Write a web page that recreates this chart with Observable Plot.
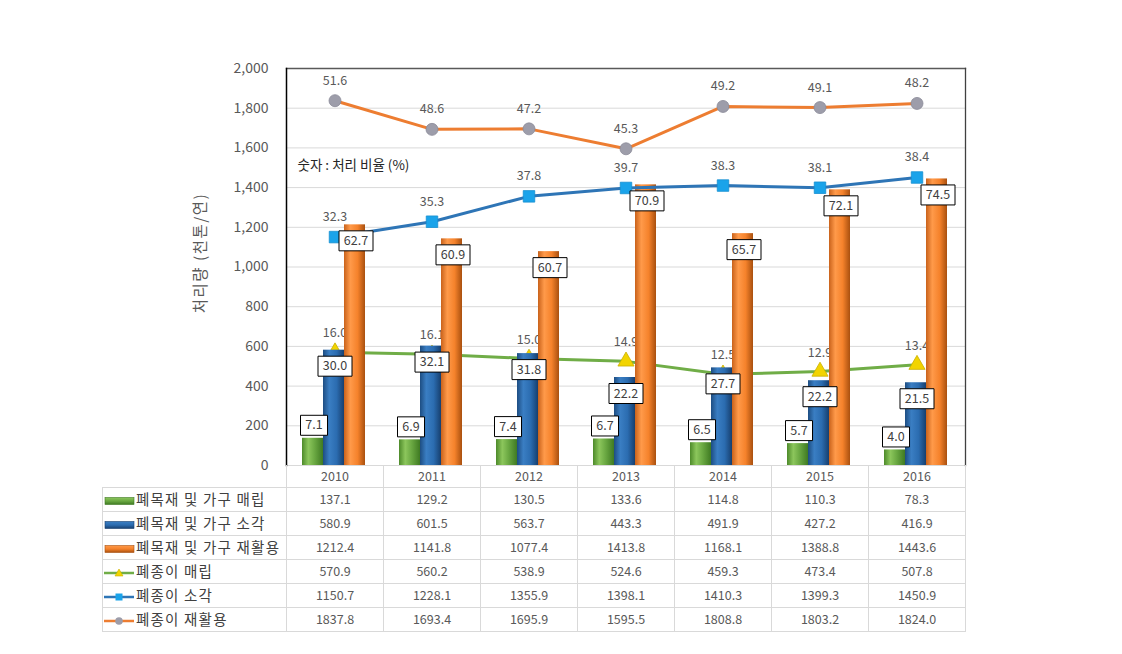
<!DOCTYPE html>
<html>
<head>
<meta charset="utf-8">
<script src="https://cdn.jsdelivr.net/npm/d3@7"></script>
<script src="https://cdn.jsdelivr.net/npm/@observablehq/plot@0.6"></script>
<style>
  body { margin: 0; background: #fff; }
  #wrap { position: relative; width: 1122px; height: 654px; font-family: 'Noto Sans CJK KR', 'Noto Sans', sans-serif; }
  #tbl { position: absolute; left: 102px; top: 465px; border-collapse: collapse; table-layout: fixed; width: 863px; }
  #tbl td { border: 1px solid #d9d9d9; padding: 0; text-align: center; font-size: 12.5px; color: #595959; height: 23px; line-height: 1; }
  #tbl td.leg { text-align: left; font-size: 14.5px; letter-spacing: 1.2px; color: #404040; white-space: nowrap; }
  #tbl td.leg svg { vertical-align: middle; margin-right: 1px; }
  #tbl tr.head td { height: 22px; border-top: none; }
  #tbl tr.head td.blank { border: none; }
</style>
</head>
<body>
<div id="wrap"></div>
<script>
const years = ["2010", "2011", "2012", "2013", "2014", "2015", "2016"];
const yTicks = [0, 200, 400, 600, 800, 1000, 1200, 1400, 1600, 1800, 2000];

const seriesNames = ["폐목재 및 가구 매립", "폐목재 및 가구 소각", "폐목재 및 가구 재활용", "폐종이 매립", "폐종이 소각", "폐종이 재활용"];

const woodLandfill = [137.1, 129.2, 130.5, 133.6, 114.8, 110.3, 78.3];
const woodIncin    = [580.9, 601.5, 563.7, 443.3, 491.9, 427.2, 416.9];
const woodRecycle  = [1212.4, 1141.8, 1077.4, 1413.8, 1168.1, 1388.8, 1443.6];
const paperLandfill = [570.9, 560.2, 538.9, 524.6, 459.3, 473.4, 507.8];
const paperIncin    = [1150.7, 1228.1, 1355.9, 1398.1, 1410.3, 1399.3, 1450.9];
const paperRecycle  = [1837.8, 1693.4, 1695.9, 1595.5, 1808.8, 1803.2, 1824.0];

const woodLandfillPct = [7.1, 6.9, 7.4, 6.7, 6.5, 5.7, 4.0];
const woodIncinPct    = [30.0, 32.1, 31.8, 22.2, 27.7, 22.2, 21.5];
const woodRecyclePct  = [62.7, 60.9, 60.7, 70.9, 65.7, 72.1, 74.5];
const paperLandfillPct = [16.0, 16.1, 15.0, 14.9, 12.5, 12.9, 13.4];
const paperIncinPct    = [32.3, 35.3, 37.8, 39.7, 38.3, 38.1, 38.4];
const paperRecyclePct  = [51.6, 48.6, 47.2, 45.3, 49.2, 49.1, 48.2];

const note = "숫자 : 처리 비율 (%)";
const yTitle = "처리량 (천톤/연)";

const mk = (vals, pcts) => years.map((year, i) => ({year, value: vals[i], pct: pcts[i].toFixed(1)}));
const wl = mk(woodLandfill, woodLandfillPct);
const wi = mk(woodIncin, woodIncinPct);
const wr = mk(woodRecycle, woodRecyclePct);
const pl = mk(paperLandfill, paperLandfillPct);
const pi = mk(paperIncin, paperIncinPct);
const pr = mk(paperRecycle, paperRecyclePct);

const barW = 21, band = 97, inset = (band - barW) / 2;
const box = w => ({draw(ctx) { ctx.rect(-w / 2, -10, w, 20); }});
const font = "'Noto Sans CJK KR', 'Noto Sans', sans-serif";

const chart = Plot.plot({
  width: 1122, height: 466,
  marginTop: 68, marginBottom: 1, marginLeft: 286, marginRight: 157,
  style: {fontFamily: font, fontSize: "14px", color: "#595959", background: "transparent", overflow: "visible"},
  x: {domain: years, padding: 0, axis: null},
  y: {domain: [0, 2000]},
  marks: [
    Plot.gridY(yTicks, {stroke: "#d9d9d9", strokeOpacity: 1}),
    Plot.axisY(yTicks, {tickSize: 0, tickPadding: 18, tickFormat: d3.format(","), label: null, fontSize: 14}),
    Plot.text([yTitle], {frameAnchor: "left", text: d => d, rotate: -90, textAnchor: "middle", dx: -85, dy: -14, fontSize: 15.5, fill: "#595959"}),
    // 폐종이 매립 (drawn behind bars)
    Plot.line(pl, {x: "year", y: "value", stroke: "#70ad47", strokeWidth: 3}),
    Plot.dot(pl, {x: "year", y: "value", symbol: "triangle", r: 6, fill: "#f2d400", stroke: "#c9b000", strokeWidth: 0.8}),
    Plot.text(pl, {x: "year", y: "value", text: "pct", dy: -19, fill: "#595959", fontSize: 12.5}),
    // bars
    Plot.barY(wl, {x: "year", y: "value", fill: "url(#gGreen)", insetLeft: inset, insetRight: inset, dx: -22}),
    Plot.barY(wi, {x: "year", y: "value", fill: "url(#gBlue)", insetLeft: inset, insetRight: inset, dx: -1}),
    Plot.barY(wr, {x: "year", y: "value", fill: "url(#gOrange)", insetLeft: inset, insetRight: inset, dx: 20}),
    // 폐종이 소각
    Plot.line(pi, {x: "year", y: "value", stroke: "#2e75b6", strokeWidth: 3}),
    Plot.dot(pi, {x: "year", y: "value", symbol: "square", r: 6.5, fill: "#1aa3ea", stroke: "#168fd0", strokeWidth: 0.8}),
    Plot.text(pi, {x: "year", y: "value", text: "pct", dy: -20, fill: "#595959", fontSize: 12.5}),
    // 폐종이 재활용
    Plot.line(pr, {x: "year", y: "value", stroke: "#ed7d31", strokeWidth: 3}),
    Plot.dot(pr, {x: "year", y: "value", r: 6, fill: "#9d9daa", stroke: "#8a8a98", strokeWidth: 0.8}),
    Plot.text(pr, {x: "year", y: "value", text: "pct", dy: -20, fill: "#595959", fontSize: 12.5}),
    // frame
    Plot.frame({anchor: "top", stroke: "#595959", strokeWidth: 1.3}),
    Plot.frame({anchor: "right", stroke: "#404040", strokeWidth: 1.3}),
    Plot.frame({anchor: "left", stroke: "#000", strokeWidth: 1.5}),
    // boxed labels for bars
    Plot.dot(wl, {x: "year", y: "value", symbol: box(27), fill: "white", stroke: "#000", strokeWidth: 1, dx: -21, dy: -13}),
    Plot.text(wl, {x: "year", y: "value", text: "pct", dx: -21, dy: -13, fill: "#404040", fontSize: 12.5}),
    Plot.dot(wi, {x: "year", y: "value", symbol: box(34), fill: "white", stroke: "#000", strokeWidth: 1, dx: 0, dy: 16}),
    Plot.text(wi, {x: "year", y: "value", text: "pct", dx: 0, dy: 16, fill: "#404040", fontSize: 12.5}),
    Plot.dot(wr, {x: "year", y: "value", symbol: box(34), fill: "white", stroke: "#000", strokeWidth: 1, dx: 21, dy: 16}),
    Plot.text(wr, {x: "year", y: "value", text: "pct", dx: 21, dy: 16, fill: "#404040", fontSize: 12.5}),
    // note
    Plot.text([note], {frameAnchor: "top-left", text: d => d, dx: 11, dy: 92, textAnchor: "start", fill: "#262626", fontSize: 13.5})
  ]
});

// gradients for 3D-like bars
const defs = d3.select(chart).insert("defs", ":first-child");
function grad(id, stops) {
  const g = defs.append("linearGradient").attr("id", id).attr("x1", "0").attr("x2", "1").attr("y1", "0").attr("y2", "0");
  stops.forEach(([o, c]) => g.append("stop").attr("offset", o).attr("stop-color", c));
}
grad("gGreen", [[0, "#4d8a2a"], [0.3, "#8cc65c"], [0.6, "#6aa842"], [1, "#3f7a22"]]);
grad("gBlue", [[0, "#1d4d82"], [0.3, "#3a7ec3"], [0.65, "#2b6cb0"], [1, "#173f6e"]]);
grad("gOrange", [[0, "#c9621b"], [0.3, "#ff9a4a"], [0.65, "#f5822b"], [1, "#a9500f"]]);

// wider letter spacing for the rotated title, like the original
d3.select(chart).selectAll("text").filter(function() { return this.textContent === yTitle; }).style("letter-spacing", "1.5px");

const wrap = document.getElementById("wrap");
wrap.appendChild(chart);
chart.style.position = "absolute";
chart.style.left = "0";
chart.style.top = "0";

// legend icons
const barIcon = (c1, c2, c3) => `<svg width="32" height="10"><defs><linearGradient id="i${c2.slice(1)}" x1="0" x2="0" y1="0" y2="1"><stop offset="0" stop-color="${c1}"/><stop offset="0.5" stop-color="${c2}"/><stop offset="1" stop-color="${c3}"/></linearGradient></defs><rect x="2" y="1.5" width="29" height="7" fill="url(#i${c2.slice(1)})" stroke="${c3}" stroke-width="0.6"/></svg>`;
const lineIcon = (lc, marker) => `<svg width="32" height="10"><line x1="1" x2="31" y1="5" y2="5" stroke="${lc}" stroke-width="2.5"/>${marker}</svg>`;
const icons = [
  barIcon("#8cc65c", "#6aa842", "#3f7a22"),
  barIcon("#3a7ec3", "#2b6cb0", "#173f6e"),
  barIcon("#ff9a4a", "#f5822b", "#a9500f"),
  lineIcon("#70ad47", `<path d="M16,1 L20,8 L12,8 Z" fill="#f2d400" stroke="#c9b000" stroke-width="0.6"/>`),
  lineIcon("#2e75b6", `<rect x="12.5" y="1.5" width="7" height="7" fill="#1aa3ea"/>`),
  lineIcon("#ed7d31", `<circle cx="16" cy="5" r="3.8" fill="#9d9daa"/>`)
];
const allVals = [woodLandfill, woodIncin, woodRecycle, paperLandfill, paperIncin, paperRecycle];

let html = `<colgroup><col style="width:184px">${years.map(() => `<col style="width:97px">`).join("")}</colgroup>`;
html += `<tr class="head"><td class="blank"></td>${years.map(y => `<td>${y}</td>`).join("")}</tr>`;
seriesNames.forEach((name, k) => {
  html += `<tr><td class="leg">${icons[k]}${name}</td>${allVals[k].map(v => `<td>${v.toFixed(1)}</td>`).join("")}</tr>`;
});
const tbl = document.createElement("table");
tbl.id = "tbl";
tbl.innerHTML = html;
wrap.appendChild(tbl);
</script>
</body>
</html>
